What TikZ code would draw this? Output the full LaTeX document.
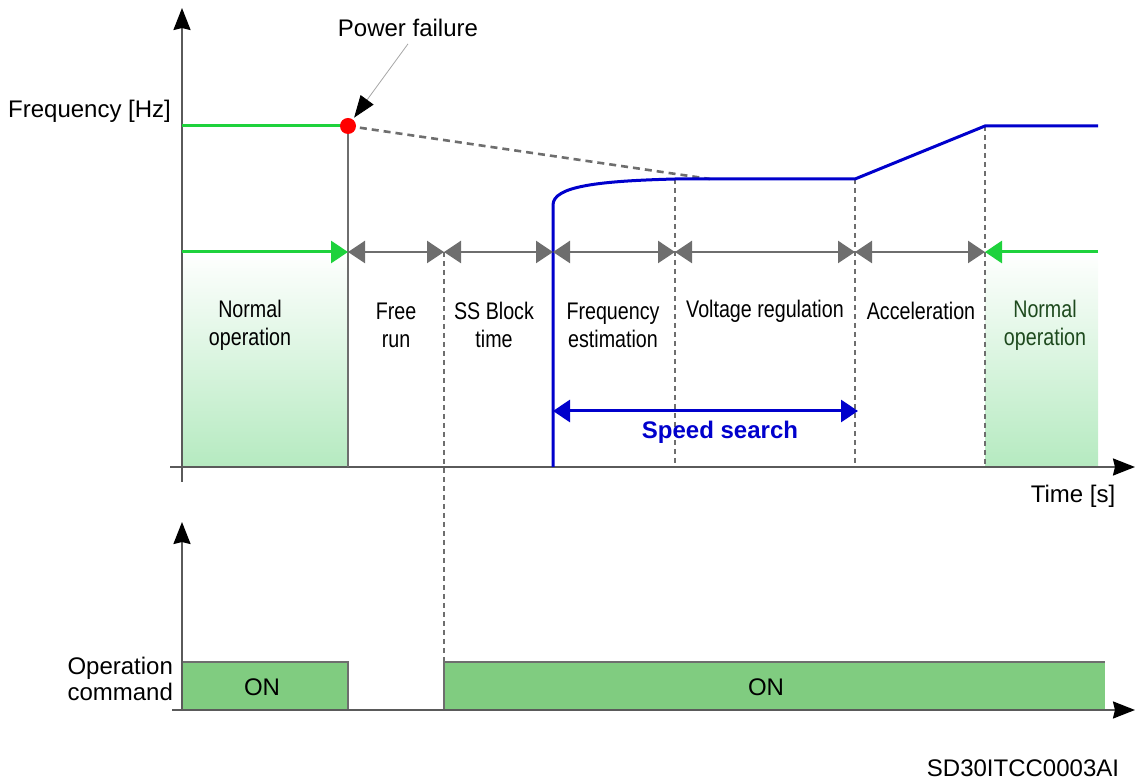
\documentclass[tikz,border=0pt]{standalone}
\usepackage{fontspec}
\setmainfont{Liberation Sans}
\newfontfamily\narrowfont[FakeStretch=0.82]{Liberation Sans}
\usetikzlibrary{arrows.meta,positioning}
\definecolor{axisgray}{HTML}{5A5A5A}
\definecolor{markgray}{HTML}{6E6E6E}
\definecolor{freqblue}{HTML}{0000CC}
\definecolor{okgreen}{HTML}{1ED23C}
\definecolor{fillgreen}{HTML}{B5EAC0}
\definecolor{ongreen}{HTML}{80CC80}
\definecolor{textgreen}{HTML}{1E4A1E}
\newcommand{\labelfont}{\fontsize{12}{14}\selectfont}

\begin{document}
\begin{tikzpicture}[x=0.5pt,y=-0.5pt,font=\labelfont,
    axis/.style={draw=axisgray,line width=1.1pt,-{Stealth[length=11pt,width=8.5pt,inset=1pt,black]}},
    span/.style={draw=markgray,line width=1.3pt,{Triangle[length=8.5pt,width=11pt]}-{Triangle[length=8.5pt,width=11pt]}},
    guide/.style={draw=markgray,line width=1.3pt,dash pattern=on 2.5pt off 2pt},
    okline/.style={draw=okgreen,line width=1.5pt},
    freq/.style={draw=freqblue,line width=1.5pt},
    phase/.style={align=center,font=\labelfont\narrowfont}]
    \useasboundingbox (0,0) rectangle (1137,780);

    \coordinate (o1) at (182,482);
    \coordinate (y1) at (182,8);
    \coordinate (x1a) at (170,467);
    \coordinate (x1) at (1135,467);
    \coordinate (o2) at (182,710);
    \coordinate (y2) at (182,522);
    \coordinate (x2a) at (172,710);
    \coordinate (x2) at (1135,710);
    \foreach \n/\x in {0/182,a/348,b/444,c/553,d/675,e/855,f/985,g/1098}
    {
        \coordinate (m\n) at (\x,252);
        \coordinate (g\n) at (\x,467);
    }
    \coordinate (h0) at (182,126);
    \coordinate (ha) at (348,126);
    \coordinate (hf) at (985,126);
    \coordinate (hg) at (1098,126);
    \coordinate (sd) at (675,179);
    \coordinate (se) at (855,179);
    \coordinate (sk) at (710,179);
    \coordinate (lb) at (444,662);
    \coordinate (ss1) at (553,411);
    \coordinate (ss2) at (858,411);

    \shade[top color=white,bottom color=fillgreen] (m0) rectangle (ga);
    \shade[top color=white,bottom color=fillgreen] (mf) rectangle (gg);
    \fill[ongreen] (182,662) rectangle (348,710);
    \fill[ongreen] (444,662) rectangle (1105,710);
    \draw[markgray,line width=1.3pt] (182,662)--(348,662)--(348,710);
    \draw[markgray,line width=1.3pt] (444,710)--(444,662)--(1105,662);

    \draw[axis] (o1)--(y1);
    \draw[axis] (x1a)--(x1);
    \draw[axis] (o2)--(y2);
    \draw[axis] (x2a)--(x2);

    \draw[guide] (mb)--(lb);
    \draw[guide] (sd)--(gd);
    \draw[guide] (se)--(ge);
    \draw[guide] (hf)--(gf);
    \draw[guide,dash pattern=on 3.5pt off 2.5pt] (ha)--(sk);
    \draw[markgray,line width=1.3pt] (ha)--(ga);

    \draw[freq] (gc)--(553,205) .. controls (553,186) and (600,181) .. (sd)--(se)--(hf)--(hg);
    \draw[okline] (h0)--(ha);
    \draw[okline,-{Triangle[length=8.5pt,width=11pt]}] (m0)--(ma);
    \draw[okline,-{Triangle[length=8.5pt,width=11pt]}] (mg)--(mf);
    \foreach \p/\q in {a/b,b/c,c/d,d/e,e/f}
        \draw[span] (m\p)--(m\q);
    \draw[freq,{Triangle[length=8.5pt,width=11pt]}-{Triangle[length=8.5pt,width=11pt]}] (ss1)--(ss2);

    \node[circle,fill=red,inner sep=0pt,minimum size=8pt] (pf) at (ha) {};
    \node (pflabel) at (408,28) {Power failure};
    \draw[gray!70,line width=0.4pt,-{Triangle[length=11pt,width=8pt,black]},shorten >=1pt] (pflabel.south)--(pf);

    \node[left] (fhz) at (178,111) {Frequency [Hz]};
    \node (tsec) at (1073,496) {Time [s]};
    \node[phase] (norm1) at (250,325) {Normal\\operation};
    \node[phase] (free) at (396,325) {Free\\run};
    \node[phase] (block) at (494,325) {SS Block\\time};
    \node[phase] (est) at (613,325) {Frequency\\estimation};
    \node[phase] (volt) at (765,311) {Voltage regulation};
    \node[phase] (acc) at (921,311) {Acceleration};
    \node[phase,text=textgreen] (norm2) at (1045,325) {Normal\\operation};
    \node[font=\labelfont\bfseries,text=freqblue] (search) at (720,432) {Speed search};

    \node[left,align=right,font={\fontsize{12}{13}\selectfont}] (cmd) at (180,679) {Operation\\command};
    \node (on1) at (262,687) {ON};
    \node (on2) at (766,687) {ON};
    \node (code) at (1023,768) {SD30ITCC0003AI};
\end{tikzpicture}
\end{document}
